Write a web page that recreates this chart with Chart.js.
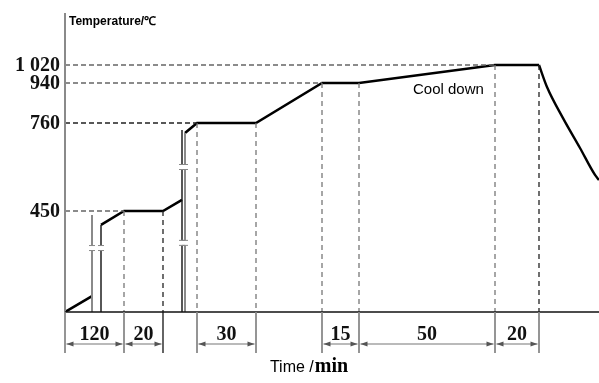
<!DOCTYPE html>
<html><head><meta charset="utf-8">
<script src="https://cdn.jsdelivr.net/npm/chart.js@4.4.1/dist/chart.umd.min.js"></script>
<style>html,body{margin:0;padding:0;background:#fff;}#wrap{width:599px;height:383px;}</style>
</head><body><div id="wrap"><canvas id="c" width="599" height="383"></canvas></div>
<script>
// ---- data (schematic x units, temperatures in °C) ----
const tempTicks = ['1 020', '940', '760', '450'];
const tempLevels = [1020, 940, 760, 450];
const levelEndX = [430, 257, 132, 59];            // where each dashed level line meets the curve
const curveX = [0, 27, 27, 36, 59, 98, 117, 117, 120, 132, 191, 257, 294, 430, 474];
const curveY = [0, 71, null, 388, 450, 450, 489, null, 725, 760, 760, 940, 940, 1020, 1020];
const coolX = [474, 482, 498, 515, 530, 534];
const coolY = [1020, 922, 782, 672, 577, 559];
const stageX = [0, 59, 98, 132, 191, 257, 294, 430, 474];
const stageTop = [0, 450, 450, 760, 760, 940, 940, 1020, 1020];
const durations = [120, 20, null, 30, null, 15, 50, 20]; // minutes between successive stages
const breakLines = [ // vertical break (axis-interruption) lines
  {x: 27, top: 432, color: '#8a8a8a'}, {x: 36, top: 388, color: '#111'},
  {x: 117, top: 735, color: '#111'}, {x: 120, top: 725, color: '#8a8a8a'}
];
const breakMarks = [{x1: 27, x2: 36, y: 285}, {x1: 117, x2: 120, y: 605}, {x1: 117, x2: 120, y: 308}];
const coolLabel = 'Cool down';

// ---- schematic (non-uniform) temperature scale ----
const tKn = [0, 450, 760, 940, 1020, 1230];
const hKn = [0, 101, 189, 229, 247, 298];
function warp(v){ for(let i=1;i<tKn.length;i++){ if(v<=tKn[i]||i===tKn.length-1){ const f=(v-tKn[i-1])/(tKn[i]-tKn[i-1]); return hKn[i-1]+f*(hKn[i]-hKn[i-1]); } } }
function unwarp(h){ for(let i=1;i<hKn.length;i++){ if(h<=hKn[i]||i===hKn.length-1){ const f=(h-hKn[i-1])/(hKn[i]-hKn[i-1]); return tKn[i-1]+f*(tKn[i]-tKn[i-1]); } } }
class SchematicScale extends Chart.LinearScale {
  getPixelForValue(v){ return super.getPixelForValue(warp(v)); }
  getValueForPixel(p){ return unwarp(super.getValueForPixel(p)); }
}
SchematicScale.id = 'schematic';
SchematicScale.defaults = Chart.LinearScale.defaults;
Chart.register(SchematicScale);

const pts = (xs, ys) => xs.map((x,i)=>({x, y: ys[i]}));
const datasets = [];
// dashed level lines
tempLevels.forEach((t,i)=>datasets.push({data:[{x:0,y:t},{x:levelEndX[i],y:t}], borderColor: i===2?'#222':'#666', borderWidth:1.3, borderDash:[5,3], pointRadius:0}));
// dashed stage verticals
stageX.forEach((x,i)=>{ if(i>0) datasets.push({data:[{x,y:stageTop[i]},{x,y:0}], borderColor:(i===2||i===8)?'#222':'#777', borderWidth:1.3, borderDash:[5,4], pointRadius:0}); });
// break lines
breakLines.forEach(b=>datasets.push({data:[{x:b.x,y:b.top},{x:b.x,y:0}], borderColor:b.color, borderWidth:b.color==='#111'?1.4:2, pointRadius:0}));
// main curve
datasets.push({data:pts(curveX, curveY), borderColor:'#000', borderWidth:2.6, pointRadius:0, spanGaps:false});
datasets.push({data:pts(coolX, coolY), borderColor:'#000', borderWidth:2.4, pointRadius:0, cubicInterpolationMode:'monotone'});

const deco = {
  id:'deco',
  afterDraw(chart){
    const ctx = chart.ctx, xs = chart.scales.x, ys = chart.scales.y, a = chart.chartArea;
    const X = v=>xs.getPixelForValue(v), Y = v=>ys.getPixelForValue(v);
    ctx.save();
    // break marks
    breakMarks.forEach(m=>{
      const y = Y(m.y);
      ctx.fillStyle='#fff'; ctx.fillRect(X(m.x1)-3, y-2.5, X(m.x2)-X(m.x1)+6, 5);
      ctx.strokeStyle='#888'; ctx.lineWidth=1;
      [m.x1, m.x2].forEach(x=>{ const px=X(x); ctx.beginPath(); ctx.moveTo(px-3,y-2.5); ctx.lineTo(px+3,y-2.5); ctx.moveTo(px-3,y+2.5); ctx.lineTo(px+3,y+2.5); ctx.stroke(); });
    });
    // axes
    ctx.strokeStyle='#8a8a8a'; ctx.lineWidth=2;
    ctx.beginPath(); ctx.moveTo(a.left, a.top-1); ctx.lineTo(a.left, Y(0)); ctx.stroke();
    ctx.strokeStyle='#111'; ctx.lineWidth=1.4;
    ctx.beginPath(); ctx.moveTo(a.left, Y(0)); ctx.lineTo(a.right, Y(0)); ctx.stroke();
    // extension lines below axis
    const y0 = Y(0), yExt = y0+41, yArr = y0+32;
    stageX.forEach((x,i)=>{ ctx.strokeStyle = i===2?'#111':'#8a8a8a'; ctx.lineWidth = i===2?1.3:1.8; ctx.beginPath(); ctx.moveTo(X(x), y0); ctx.lineTo(X(x), yExt); ctx.stroke(); });
    // dimension arrows + labels
    const arrow = (px, dir)=>{ ctx.beginPath(); ctx.moveTo(px, yArr); ctx.lineTo(px+dir*7, yArr-2.5); ctx.lineTo(px+dir*7, yArr+2.5); ctx.closePath(); ctx.fill(); };
    ctx.font='bold 20px "Liberation Serif", "Times New Roman", serif';
    ctx.textAlign='center'; ctx.textBaseline='alphabetic';
    durations.forEach((d,i)=>{
      if(d===null) return;
      const p1 = X(stageX[i])+1.5, p2 = X(stageX[i+1])-1.5;
      ctx.strokeStyle='#777'; ctx.fillStyle='#555'; ctx.lineWidth=1.2;
      ctx.beginPath(); ctx.moveTo(p1, yArr); ctx.lineTo(p2, yArr); ctx.stroke();
      arrow(p1, 1); arrow(p2, -1);
      ctx.fillStyle='#111'; ctx.fillText(String(d), (p1+p2)/2, yArr-4);
    });
    // y tick labels
    ctx.textAlign='right'; ctx.textBaseline='middle'; ctx.fillStyle='#111';
    tempLevels.forEach((t,i)=>ctx.fillText(tempTicks[i], a.left-5, Y(t)+1));
    // axis titles
    ctx.textAlign='left'; ctx.textBaseline='alphabetic'; ctx.fillStyle='#000';
    ctx.font='bold 12px "Liberation Sans", Arial, sans-serif';
    ctx.fillText('Temperature/\u2103', a.left+4, 25);
    const f1='16px "Liberation Sans", Arial, sans-serif', f2='bold 20px "Liberation Serif", "Times New Roman", serif';
    const t1='Time /'; ctx.font=f1; const w1=ctx.measureText(t1).width;
    ctx.font=f2; const w2=ctx.measureText('min').width;
    const sx = 309-(w1+w2+1)/2;
    ctx.font=f1; ctx.fillText(t1, sx, 372);
    ctx.font=f2; ctx.fillText('min', sx+w1+1, 372);
    // cool down label
    ctx.font='15px "Liberation Sans", Arial, sans-serif';
    ctx.fillText(coolLabel, 413, 94);
    ctx.restore();
  }
};

new Chart(document.getElementById('c'), {
  type:'line',
  data:{datasets},
  options:{
    responsive:false, animation:false,
    layout:{padding:{left:65, right:0, top:14, bottom:71}},
    plugins:{legend:{display:false}, tooltip:{enabled:false}},
    scales:{
      x:{type:'linear', min:0, max:534, display:false},
      y:{type:'schematic', min:0, max:298, display:false}
    }
  },
  plugins:[deco]
});
</script></body></html>
